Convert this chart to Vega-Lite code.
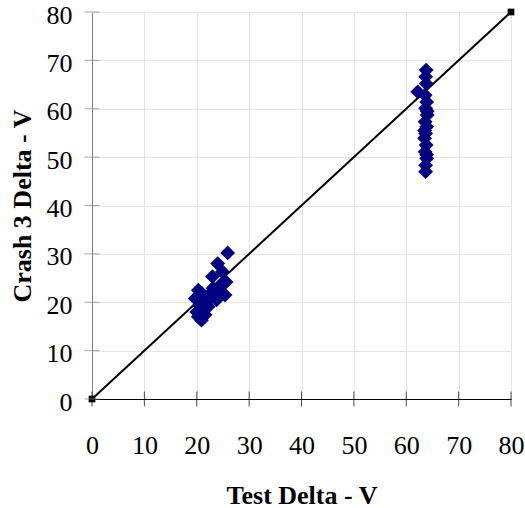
{
  "$schema": "https://vega.github.io/schema/vega-lite/v6.json",
  "width": 419,
  "height": 387,
  "autosize": "none",
  "padding": {"left": 92, "top": 12, "right": 14, "bottom": 109},
  "background": "white",
  "config": {
    "view": {"stroke": null},
    "font": "Liberation Serif",
    "axis": {"labelFont": "Liberation Serif", "titleFont": "Liberation Serif"}
  },
  "datasets": {
    "pts": [
      {"x": 25.9, "y": 30.2}, {"x": 24.0, "y": 28.0}, {"x": 24.9, "y": 26.3}, {"x": 25.6, "y": 24.2},
      {"x": 23.0, "y": 25.3}, {"x": 25.4, "y": 21.5}, {"x": 20.3, "y": 22.5}, {"x": 19.7, "y": 20.8},
      {"x": 20.9, "y": 16.3}, {"x": 20.0, "y": 18.0}, {"x": 22.2, "y": 19.1}, {"x": 23.8, "y": 20.5},
      {"x": 21.6, "y": 17.4}, {"x": 24.1, "y": 22.5}, {"x": 23.1, "y": 22.9}, {"x": 21.2, "y": 19.8},
      {"x": 20.5, "y": 19.4}, {"x": 22.8, "y": 21.1}, {"x": 20.3, "y": 17.0}, {"x": 24.8, "y": 23.9},
      {"x": 22.0, "y": 21.1}, {"x": 21.0, "y": 21.8},
      {"x": 63.8, "y": 68.0}, {"x": 63.7, "y": 66.6}, {"x": 63.8, "y": 65.2}, {"x": 62.2, "y": 63.5},
      {"x": 63.6, "y": 62.8}, {"x": 63.9, "y": 61.4}, {"x": 63.7, "y": 60.1}, {"x": 64.0, "y": 58.7},
      {"x": 63.6, "y": 57.3}, {"x": 63.9, "y": 56.3}, {"x": 63.7, "y": 54.9}, {"x": 63.5, "y": 53.9},
      {"x": 63.8, "y": 52.5}, {"x": 63.6, "y": 51.1}, {"x": 63.9, "y": 49.7}, {"x": 63.7, "y": 48.3},
      {"x": 63.7, "y": 47.0}, {"x": 64.0, "y": 59.5}, {"x": 63.5, "y": 55.5}, {"x": 63.9, "y": 50.5}
    ],
    "line": [{"x": 0, "y": 0}, {"x": 80, "y": 80}],
    "ticks": [{"v": 0}, {"v": 10}, {"v": 20}, {"v": 30}, {"v": 40}, {"v": 50}, {"v": 60}, {"v": 70}, {"v": 80}]
  },
  "layer": [
    {
      "data": {"name": "line"},
      "mark": {"type": "line", "color": "black", "strokeWidth": 2},
      "encoding": {
        "x": {"field": "x", "type": "quantitative", "scale": {"domain": [0, 80], "nice": false}, "title": "Test Delta - V",
          "axis": {
            "domainColor": "black", "domainWidth": 1, "ticks": false, "tickSize": 0,
            "grid": true, "gridColor": "#e4e4e4", "gridWidth": 1, "labelFlush": false,
            "labelFont": "Liberation Serif", "labelFontSize": 26, "labelColor": "black", "labelPadding": 33,
            "titleFont": "Liberation Serif", "titleFontSize": 26, "titleFontWeight": "bold", "titleColor": "black", "titlePadding": 24,
            "values": [0, 10, 20, 30, 40, 50, 60, 70, 80]
          }},
        "y": {"field": "y", "type": "quantitative", "scale": {"domain": [0, 80], "nice": false}, "title": "Crash 3 Delta - V",
          "axis": {
            "domainColor": "#808080", "domainWidth": 1, "ticks": false, "tickSize": 0,
            "grid": true, "gridColor": "#e4e4e4", "gridWidth": 1, "labelFlush": false,
            "labelFont": "Liberation Serif", "labelFontSize": 26, "labelColor": "black", "labelPadding": 20, "labelOffset": 3,
            "titleFont": "Liberation Serif", "titleFontSize": 26, "titleFontWeight": "bold", "titleColor": "black", "titlePadding": 11,
            "values": [0, 10, 20, 30, 40, 50, 60, 70, 80]
          }}
      }
    },
    {
      "data": {"name": "line"},
      "mark": {"type": "point", "shape": "square", "filled": true, "color": "black", "opacity": 1, "size": 45},
      "encoding": {
        "x": {"field": "x", "type": "quantitative", "title": "Test Delta - V"},
        "y": {"field": "y", "type": "quantitative", "title": "Crash 3 Delta - V"}
      }
    },
    {
      "data": {"name": "ticks"},
      "mark": {"type": "tick", "orient": "vertical", "color": "black", "size": 15, "thickness": 1},
      "encoding": {
        "x": {"field": "v", "type": "quantitative", "title": "Test Delta - V"},
        "y": {"datum": 0, "type": "quantitative", "title": "Crash 3 Delta - V"}
      }
    },
    {
      "data": {"name": "ticks"},
      "mark": {"type": "tick", "orient": "horizontal", "color": "#808080", "size": 15, "thickness": 1},
      "encoding": {
        "x": {"datum": 0, "type": "quantitative", "title": "Test Delta - V"},
        "y": {"field": "v", "type": "quantitative", "title": "Crash 3 Delta - V"}
      }
    },
    {
      "data": {"name": "pts"},
      "mark": {"type": "point", "shape": "diamond", "filled": true, "color": "#000080", "opacity": 1, "size": 220},
      "encoding": {
        "x": {"field": "x", "type": "quantitative", "title": "Test Delta - V"},
        "y": {"field": "y", "type": "quantitative", "title": "Crash 3 Delta - V"}
      }
    }
  ]
}
